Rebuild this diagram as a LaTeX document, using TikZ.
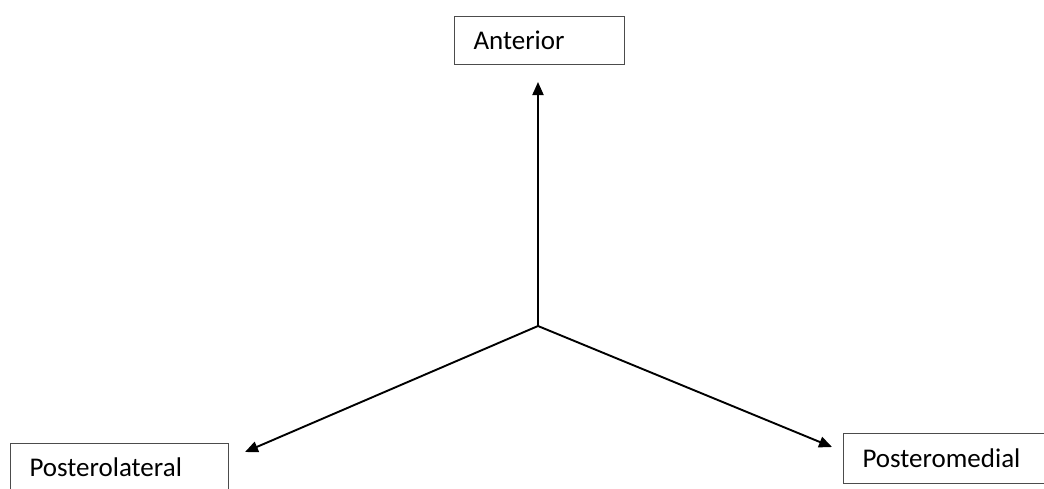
\documentclass[tikz,border=0pt]{standalone}
\usepackage{fontspec}
\setmainfont{Carlito}
\usetikzlibrary{arrows.meta}
\begin{document}
\begin{tikzpicture}[x=1pt,y=-1pt,
  box/.style={draw=black!70, line width=1.1pt, fill=white, anchor=north west,
    inner xsep=19pt, inner ysep=0pt, align=left, font=\fontsize{27}{30}\selectfont},
  arr/.style={line width=1.9pt, -{Triangle[length=13pt,width=11pt]}}]
\useasboundingbox (0,0) rectangle (1044,488);
\clip (0,0) rectangle (1044,488);
\node[box, minimum width=170pt, minimum height=48pt, text width=132pt] (ant) at (454,16) {Anterior};
\node[box, minimum width=218pt, minimum height=48pt, text width=180pt] (pl) at (10,443) {Posterolateral};
\node[box, minimum width=210pt, minimum height=50pt, text width=172pt] (pm) at (843,433) {Posteromedial};
\coordinate (c) at (538,326);
\coordinate (tant) at (538,82);
\coordinate (tpl) at (245,452);
\coordinate (tpm) at (832,447);
\draw[arr] (c) -- (tant);
\draw[arr] (c) -- (tpl);
\draw[arr] (c) -- (tpm);
\end{tikzpicture}
\end{document}
